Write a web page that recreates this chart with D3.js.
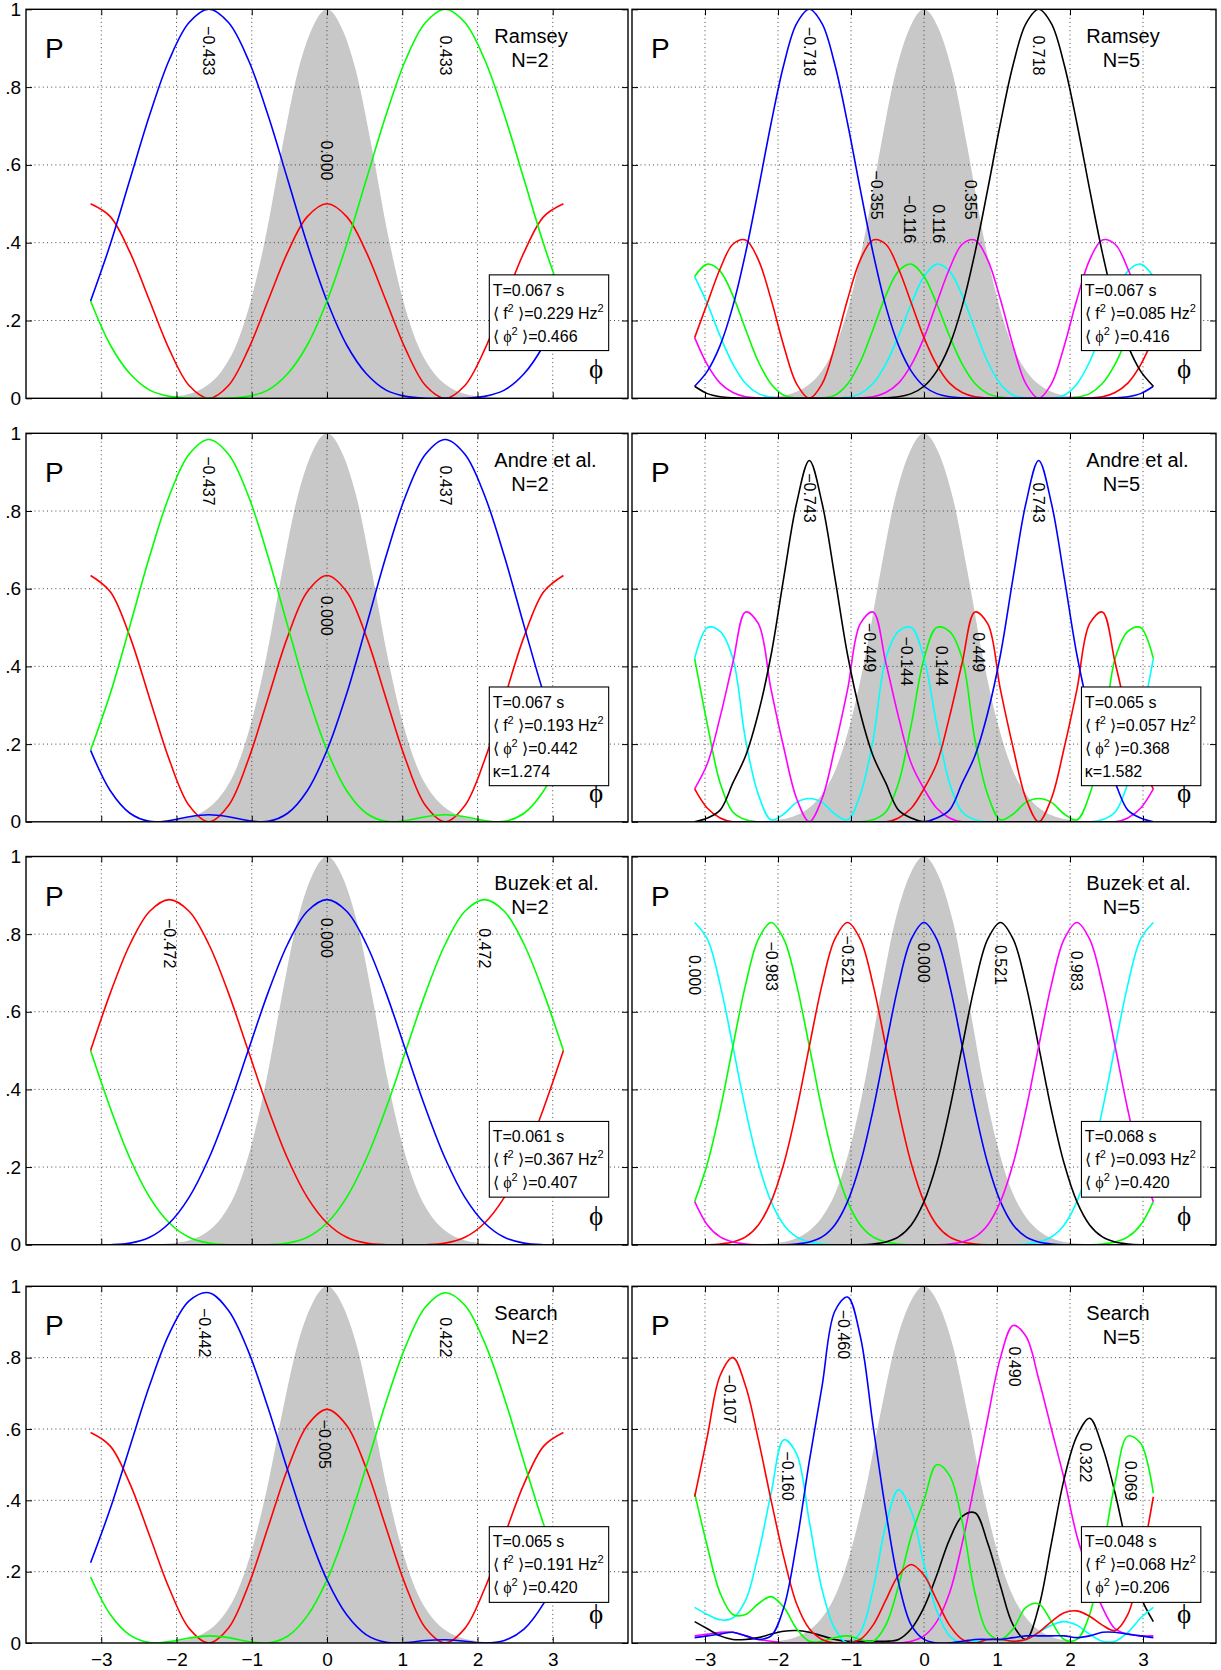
<!DOCTYPE html>
<html>
<head>
<meta charset="utf-8">
<script src="https://cdn.jsdelivr.net/npm/d3@7"></script>
<style>
  body { margin: 0; background: #fff; }
  svg { display: block; }
  text { font-family: "Liberation Sans", Arial, Helvetica, sans-serif; }
</style>
</head>
<body>
<div id="chart"></div>
<script>
// phase grids (rad)
const phiN2 = [-3.1416, -2.8798, -2.618, -2.3562, -2.0944, -1.8326, -1.5708, -1.309, -1.0472, -0.7854, -0.5236, -0.2618, 0, 0.2618, 0.5236, 0.7854, 1.0472, 1.309, 1.5708, 1.8326, 2.0944, 2.3562, 2.618, 2.8798, 3.1416];
const phiN5 = [-3.1416, -2.9671, -2.7925, -2.618, -2.4435, -2.2689, -2.0944, -1.9199, -1.7453, -1.5708, -1.3963, -1.2217, -1.0472, -0.8727, -0.6981, -0.5236, -0.3491, -0.1745, 0, 0.1745, 0.3491, 0.5236, 0.6981, 0.8727, 1.0472, 1.2217, 1.3963, 1.5708, 1.7453, 1.9199, 2.0944, 2.2689, 2.4435, 2.618, 2.7925, 2.9671, 3.1416];

// grey prior
const priorPhi = [-3.14, -2.8, -2.4, -2.2, -2.0, -1.8, -1.6, -1.4, -1.2, -1.0, -0.8, -0.6, -0.4, -0.2, 0, 0.2, 0.4, 0.6, 0.8, 1.0, 1.2, 1.4, 1.6, 1.8, 2.0, 2.2, 2.4, 2.8, 3.14];
const priorP = [0, 0, 0.0005, 0.002, 0.005, 0.013, 0.032, 0.07, 0.14, 0.26, 0.43, 0.64, 0.83, 0.95, 1, 0.95, 0.83, 0.64, 0.43, 0.26, 0.14, 0.07, 0.032, 0.013, 0.005, 0.002, 0.0005, 0, 0];

// Ramsey N=2
const ramsey2Red = [0.5, 0.467, 0.375, 0.25, 0.125, 0.033, 0, 0.033, 0.125, 0.25, 0.375, 0.467, 0.5, 0.467, 0.375, 0.25, 0.125, 0.033, 0, 0.033, 0.125, 0.25, 0.375, 0.467, 0.5];
const ramsey2Blue = [0.25, 0.396, 0.563, 0.729, 0.871, 0.966, 1, 0.966, 0.871, 0.729, 0.563, 0.396, 0.25, 0.137, 0.063, 0.021, 0.005, 0, 0, 0, 0.005, 0.021, 0.063, 0.137, 0.25];
const ramsey2Green = [0.25, 0.137, 0.063, 0.021, 0.005, 0, 0, 0, 0.005, 0.021, 0.063, 0.137, 0.25, 0.396, 0.563, 0.729, 0.871, 0.966, 1, 0.966, 0.871, 0.729, 0.563, 0.396, 0.25];
const ramsey2LabelText = ["\u22120.433", "0.000", "0.433"];
const ramsey2LabelPhi = [-1.571, 0, 1.571];
const ramsey2LabelP = [0.83, 0.56, 0.83];
const ramsey2Stats = ["0.067", "0.229", "0.466"];

// Ramsey N=5
const ramsey5Blue = [0.031, 0.070, 0.136, 0.237, 0.374, 0.537, 0.707, 0.858, 0.963, 1, 0.963, 0.858, 0.707, 0.537, 0.374, 0.237, 0.136, 0.070, 0.031, 0.012, 0.004, 0.001, 0, 0, 0, 0, 0, 0, 0, 0, 0, 0, 0, 0.001, 0.004, 0.012, 0.031];
const ramsey5Black = [0.031, 0.012, 0.004, 0.001, 0, 0, 0, 0, 0, 0, 0, 0, 0, 0, 0, 0.001, 0.004, 0.012, 0.031, 0.070, 0.136, 0.237, 0.374, 0.537, 0.707, 0.858, 0.963, 1, 0.963, 0.858, 0.707, 0.537, 0.374, 0.237, 0.136, 0.070, 0.031];
const ramsey5Red = [0.156, 0.245, 0.333, 0.396, 0.407, 0.356, 0.254, 0.134, 0.037, 0, 0.037, 0.134, 0.254, 0.356, 0.407, 0.396, 0.333, 0.245, 0.156, 0.086, 0.039, 0.015, 0.004, 0.001, 0, 0, 0, 0, 0, 0, 0, 0.001, 0.004, 0.015, 0.039, 0.086, 0.156];
const ramsey5Magenta = [0.156, 0.086, 0.039, 0.015, 0.004, 0.001, 0, 0, 0, 0, 0, 0, 0, 0.001, 0.004, 0.015, 0.039, 0.086, 0.156, 0.245, 0.333, 0.396, 0.407, 0.356, 0.254, 0.134, 0.037, 0, 0.037, 0.134, 0.254, 0.356, 0.407, 0.396, 0.333, 0.245, 0.156];
const ramsey5Green = [0.313, 0.345, 0.327, 0.264, 0.177, 0.094, 0.037, 0.008, 0.001, 0, 0.001, 0.008, 0.037, 0.094, 0.177, 0.264, 0.327, 0.345, 0.313, 0.243, 0.160, 0.088, 0.038, 0.012, 0.003, 0, 0, 0, 0, 0, 0.003, 0.012, 0.038, 0.088, 0.160, 0.243, 0.313];
const ramsey5Cyan = [0.313, 0.243, 0.160, 0.088, 0.038, 0.012, 0.003, 0, 0, 0, 0, 0, 0.003, 0.012, 0.038, 0.088, 0.160, 0.243, 0.313, 0.345, 0.327, 0.264, 0.177, 0.094, 0.037, 0.008, 0.001, 0, 0.001, 0.008, 0.037, 0.094, 0.177, 0.264, 0.327, 0.345, 0.313];
const ramsey5LabelText = ["\u22120.718", "\u22120.355", "\u22120.116", "0.116", "0.355", "0.718"];
const ramsey5LabelPhi = [-1.571, -0.644, -0.201, 0.201, 0.644, 1.571];
const ramsey5LabelP = [0.828, 0.459, 0.399, 0.399, 0.459, 0.83];
const ramsey5Stats = ["0.067", "0.085", "0.416"];

// Andre et al. N=2
const andre2Green = [0.184, 0.330, 0.505, 0.684, 0.840, 0.946, 0.984, 0.946, 0.840, 0.684, 0.505, 0.330, 0.184, 0.080, 0.022, 0.001, 0.003, 0.013, 0.018, 0.013, 0.003, 0.001, 0.022, 0.080, 0.184];
const andre2Blue = [0.184, 0.080, 0.022, 0.001, 0.003, 0.013, 0.018, 0.013, 0.003, 0.001, 0.022, 0.080, 0.184, 0.330, 0.505, 0.684, 0.840, 0.946, 0.984, 0.946, 0.840, 0.684, 0.505, 0.330, 0.184];
const andre2Red = [0.634, 0.592, 0.476, 0.317, 0.159, 0.042, 0, 0.042, 0.159, 0.317, 0.476, 0.592, 0.634, 0.592, 0.476, 0.317, 0.159, 0.042, 0, 0.042, 0.159, 0.317, 0.476, 0.592, 0.634];
const andre2LabelText = ["\u22120.437", "0.000", "0.437"];
const andre2LabelPhi = [-1.571, 0, 1.571];
const andre2LabelP = [0.814, 0.479, 0.814];
const andre2Stats = ["0.067", "0.193", "0.442", "1.274"];

// Andre et al. N=5
const andre5Black = [0, 0.01, 0.03, 0.10, 0.17, 0.28, 0.43, 0.63, 0.82, 0.93, 0.82, 0.63, 0.43, 0.28, 0.17, 0.10, 0.03, 0.01, 0, 0, 0, 0, 0, 0, 0, 0, 0, 0, 0, 0, 0, 0, 0, 0, 0, 0, 0];
const andre5Blue = [0, 0, 0, 0, 0, 0, 0, 0, 0, 0, 0, 0, 0, 0, 0, 0, 0, 0, 0, 0.01, 0.03, 0.10, 0.17, 0.28, 0.43, 0.63, 0.82, 0.93, 0.82, 0.63, 0.43, 0.28, 0.17, 0.10, 0.03, 0.01, 0];
const andre5Magenta = [0.085, 0.15, 0.27, 0.41, 0.54, 0.51, 0.34, 0.19, 0.06, 0, 0.06, 0.19, 0.34, 0.51, 0.54, 0.41, 0.27, 0.15, 0.085, 0.035, 0.01, 0, 0, 0, 0, 0, 0, 0, 0, 0, 0, 0, 0, 0, 0.01, 0.035, 0.085];
const andre5Red = [0.085, 0.035, 0.01, 0, 0, 0, 0, 0, 0, 0, 0, 0, 0, 0, 0, 0, 0.01, 0.035, 0.085, 0.15, 0.27, 0.41, 0.54, 0.51, 0.34, 0.19, 0.06, 0, 0.06, 0.19, 0.34, 0.51, 0.54, 0.41, 0.27, 0.15, 0.085];
const andre5Cyan = [0.42, 0.50, 0.49, 0.42, 0.21, 0.07, 0.005, 0.02, 0.05, 0.06, 0.05, 0.02, 0.005, 0.07, 0.21, 0.42, 0.49, 0.50, 0.42, 0.25, 0.10, 0.025, 0.005, 0, 0, 0, 0, 0, 0, 0, 0, 0, 0.005, 0.025, 0.10, 0.25, 0.42];
const andre5Green = [0.42, 0.25, 0.10, 0.025, 0.005, 0, 0, 0, 0, 0, 0, 0, 0, 0, 0.005, 0.025, 0.10, 0.25, 0.42, 0.50, 0.49, 0.42, 0.21, 0.07, 0.005, 0.02, 0.05, 0.06, 0.05, 0.02, 0.005, 0.07, 0.21, 0.42, 0.49, 0.50, 0.42];
const andre5LabelText = ["\u22120.743", "\u22120.449", "\u22120.144", "0.144", "0.449", "0.743"];
const andre5LabelPhi = [-1.571, -0.75, -0.243, 0.243, 0.75, 1.571];
const andre5LabelP = [0.77, 0.385, 0.35, 0.35, 0.385, 0.77];
const andre5Stats = ["0.065", "0.057", "0.368", "1.582"];

// Buzek et al. N=2
const buzek2Red = [0.5, 0.648, 0.774, 0.859, 0.889, 0.859, 0.774, 0.648, 0.5, 0.352, 0.222, 0.122, 0.056, 0.019, 0.004, 0, 0, 0, 0.004, 0.019, 0.056, 0.122, 0.222, 0.352, 0.5];
const buzek2Blue = [0, 0, 0.004, 0.019, 0.056, 0.122, 0.222, 0.352, 0.5, 0.648, 0.774, 0.859, 0.889, 0.859, 0.774, 0.648, 0.5, 0.352, 0.222, 0.122, 0.056, 0.019, 0.004, 0, 0];
const buzek2Green = [0.5, 0.352, 0.222, 0.122, 0.056, 0.019, 0.004, 0, 0, 0, 0.004, 0.019, 0.056, 0.122, 0.222, 0.352, 0.5, 0.648, 0.774, 0.859, 0.889, 0.859, 0.774, 0.648, 0.5];
const buzek2LabelText = ["\u22120.472", "0.000", "0.472"];
const buzek2LabelPhi = [-2.094, 0, 2.094];
const buzek2LabelP = [0.712, 0.739, 0.712];
const buzek2Stats = ["0.061", "0.367", "0.407"];

// Buzek et al. N=5
const buzek5Cyan = [0.83, 0.787, 0.670, 0.511, 0.347, 0.209, 0.111, 0.051, 0.020, 0.007, 0.002, 0, 0, 0, 0, 0, 0, 0, 0, 0, 0, 0, 0, 0, 0, 0, 0.002, 0.007, 0.020, 0.051, 0.111, 0.209, 0.347, 0.511, 0.670, 0.787, 0.83];
const buzek5Green = [0.111, 0.209, 0.347, 0.511, 0.670, 0.787, 0.83, 0.787, 0.670, 0.511, 0.347, 0.209, 0.111, 0.051, 0.020, 0.007, 0.002, 0, 0, 0, 0, 0, 0, 0, 0, 0, 0, 0, 0, 0, 0, 0, 0.002, 0.007, 0.020, 0.051, 0.111];
const buzek5Red = [0, 0, 0.002, 0.007, 0.020, 0.051, 0.111, 0.209, 0.347, 0.511, 0.670, 0.787, 0.83, 0.787, 0.670, 0.511, 0.347, 0.209, 0.111, 0.051, 0.020, 0.007, 0.002, 0, 0, 0, 0, 0, 0, 0, 0, 0, 0, 0, 0, 0, 0];
const buzek5Blue = [0, 0, 0, 0, 0, 0, 0, 0, 0.002, 0.007, 0.020, 0.051, 0.111, 0.209, 0.347, 0.511, 0.670, 0.787, 0.83, 0.787, 0.670, 0.511, 0.347, 0.209, 0.111, 0.051, 0.020, 0.007, 0.002, 0, 0, 0, 0, 0, 0, 0, 0];
const buzek5Black = [0, 0, 0, 0, 0, 0, 0, 0, 0, 0, 0, 0, 0, 0, 0.002, 0.007, 0.020, 0.051, 0.111, 0.209, 0.347, 0.511, 0.670, 0.787, 0.83, 0.787, 0.670, 0.511, 0.347, 0.209, 0.111, 0.051, 0.020, 0.007, 0.002, 0, 0];
const buzek5Magenta = [0.111, 0.051, 0.020, 0.007, 0.002, 0, 0, 0, 0, 0, 0, 0, 0, 0, 0, 0, 0, 0, 0, 0, 0.002, 0.007, 0.020, 0.051, 0.111, 0.209, 0.347, 0.511, 0.670, 0.787, 0.83, 0.787, 0.670, 0.511, 0.347, 0.209, 0.111];
const buzek5LabelText = ["0.000", "\u22120.983", "\u22120.521", "0.000", "0.521", "0.983"];
const buzek5LabelPhi = [-3.14, -2.094, -1.047, 0, 1.047, 2.094];
const buzek5LabelP = [0.643, 0.654, 0.669, 0.675, 0.669, 0.654];
const buzek5Stats = ["0.068", "0.093", "0.420"];

// Search N=2
const search2Blue = [0.225, 0.377, 0.551, 0.723, 0.868, 0.959, 0.982, 0.932, 0.819, 0.661, 0.485, 0.317, 0.177, 0.079, 0.023, 0.002, 0.001, 0.007, 0.009, 0.005, 0, 0.007, 0.039, 0.111, 0.225];
const search2Green = [0.185, 0.080, 0.022, 0.001, 0.004, 0.014, 0.020, 0.015, 0.004, 0, 0.019, 0.076, 0.177, 0.322, 0.496, 0.676, 0.833, 0.942, 0.982, 0.947, 0.842, 0.687, 0.507, 0.332, 0.185];
const search2Red = [0.59, 0.552, 0.446, 0.300, 0.152, 0.041, 0, 0.042, 0.160, 0.323, 0.488, 0.610, 0.655, 0.610, 0.488, 0.323, 0.160, 0.042, 0, 0.041, 0.152, 0.300, 0.446, 0.552, 0.59];
const search2LabelText = ["\u22120.442", "\u22120.005", "0.422"];
const search2LabelPhi = [-1.62, -0.03, 1.58];
const search2LabelP = [0.801, 0.488, 0.801];
const search2Stats = ["0.065", "0.191", "0.420"];

// Search N=5
const search5Red = [0.41, 0.58, 0.75, 0.80, 0.72, 0.57, 0.40, 0.24, 0.11, 0.04, 0.01, 0, 0, 0.01, 0.05, 0.12, 0.19, 0.22, 0.19, 0.12, 0.05, 0.01, 0, 0.01, 0.01, 0.005, 0.01, 0.03, 0.06, 0.085, 0.09, 0.075, 0.05, 0.035, 0.08, 0.22, 0.41];
const search5Blue = [0.015, 0.02, 0.025, 0.03, 0.02, 0.01, 0.02, 0.10, 0.28, 0.51, 0.72, 0.93, 0.97, 0.86, 0.61, 0.37, 0.17, 0.05, 0.01, 0, 0, 0.005, 0.01, 0.01, 0.01, 0.015, 0.02, 0.02, 0.02, 0.02, 0.015, 0.02, 0.03, 0.03, 0.025, 0.02, 0.015];
const search5Cyan = [0.10, 0.08, 0.065, 0.07, 0.12, 0.25, 0.42, 0.57, 0.53, 0.34, 0.15, 0.04, 0, 0.03, 0.15, 0.33, 0.43, 0.37, 0.22, 0.09, 0.02, 0, 0.005, 0.01, 0.01, 0.005, 0.01, 0.03, 0.05, 0.06, 0.05, 0.025, 0.005, 0.005, 0.03, 0.07, 0.10];
const search5Green = [0.42, 0.27, 0.14, 0.08, 0.08, 0.11, 0.13, 0.10, 0.04, 0.005, 0.005, 0.015, 0.02, 0.01, 0.005, 0.05, 0.16, 0.30, 0.40, 0.50, 0.47, 0.34, 0.14, 0.03, 0.01, 0.04, 0.10, 0.11, 0.06, 0.01, 0.01, 0.08, 0.25, 0.45, 0.58, 0.56, 0.42];
const search5Magenta = [0.02, 0.025, 0.03, 0.03, 0.02, 0.01, 0.005, 0, 0, 0, 0, 0, 0, 0, 0, 0, 0, 0.005, 0.02, 0.06, 0.14, 0.28, 0.45, 0.63, 0.80, 0.89, 0.86, 0.74, 0.60, 0.46, 0.30, 0.19, 0.10, 0.04, 0.025, 0.02, 0.02];
const search5Black = [0.06, 0.04, 0.02, 0.01, 0.01, 0.015, 0.025, 0.033, 0.035, 0.03, 0.02, 0.01, 0.005, 0.005, 0.005, 0.005, 0.01, 0.04, 0.10, 0.19, 0.29, 0.355, 0.365, 0.28, 0.16, 0.05, 0.01, 0.10, 0.28, 0.46, 0.58, 0.63, 0.55, 0.42, 0.26, 0.13, 0.06];
const search5LabelText = ["\u22120.107", "\u22120.160", "\u22120.460", "0.490", "0.322", "0.069"];
const search5LabelPhi = [-2.66, -1.87, -1.1, 1.24, 2.21, 2.83];
const search5LabelP = [0.614, 0.399, 0.796, 0.719, 0.45, 0.399];
const search5Stats = ["0.048", "0.068", "0.206"];

const xTicks = [-3, -2, -1, 0, 1, 2, 3];
const yTicks = [0, 0.2, 0.4, 0.6, 0.8, 1];
const yTickText = ["0", ".2", ".4", ".6", ".8", "1"];

const C = { r: "#ff0000", g: "#00ff00", b: "#0000ff", c: "#00ffff", m: "#ff00ff", k: "#000000" };

const panels = [
  { row: 0, col: 0, phi: phiN2, title: ["Ramsey", "N=2"], stats: ramsey2Stats,
    series: [[ramsey2Red, "r"], [ramsey2Blue, "b"], [ramsey2Green, "g"]],
    lab: [ramsey2LabelText, ramsey2LabelPhi, ramsey2LabelP] },
  { row: 0, col: 1, phi: phiN5, title: ["Ramsey", "N=5"], stats: ramsey5Stats,
    series: [[ramsey5Cyan, "c"], [ramsey5Green, "g"], [ramsey5Magenta, "m"], [ramsey5Red, "r"], [ramsey5Blue, "b"], [ramsey5Black, "k"]],
    lab: [ramsey5LabelText, ramsey5LabelPhi, ramsey5LabelP] },
  { row: 1, col: 0, phi: phiN2, title: ["Andre et al.", "N=2"], stats: andre2Stats,
    series: [[andre2Red, "r"], [andre2Green, "g"], [andre2Blue, "b"]],
    lab: [andre2LabelText, andre2LabelPhi, andre2LabelP] },
  { row: 1, col: 1, phi: phiN5, title: ["Andre et al.", "N=5"], stats: andre5Stats,
    series: [[andre5Cyan, "c"], [andre5Green, "g"], [andre5Magenta, "m"], [andre5Red, "r"], [andre5Black, "k"], [andre5Blue, "b"]],
    lab: [andre5LabelText, andre5LabelPhi, andre5LabelP] },
  { row: 2, col: 0, phi: phiN2, title: ["Buzek et al.", "N=2"], stats: buzek2Stats,
    series: [[buzek2Green, "g"], [buzek2Red, "r"], [buzek2Blue, "b"]],
    lab: [buzek2LabelText, buzek2LabelPhi, buzek2LabelP] },
  { row: 2, col: 1, phi: phiN5, title: ["Buzek et al.", "N=5"], stats: buzek5Stats,
    series: [[buzek5Cyan, "c"], [buzek5Green, "g"], [buzek5Red, "r"], [buzek5Blue, "b"], [buzek5Black, "k"], [buzek5Magenta, "m"]],
    lab: [buzek5LabelText, buzek5LabelPhi, buzek5LabelP] },
  { row: 3, col: 0, phi: phiN2, title: ["Search", "N=2"], stats: search2Stats,
    series: [[search2Red, "r"], [search2Green, "g"], [search2Blue, "b"]],
    lab: [search2LabelText, search2LabelPhi, search2LabelP] },
  { row: 3, col: 1, phi: phiN5, title: ["Search", "N=5"], stats: search5Stats,
    series: [[search5Magenta, "m"], [search5Black, "k"], [search5Cyan, "c"], [search5Green, "g"], [search5Red, "r"], [search5Blue, "b"]],
    lab: [search5LabelText, search5LabelPhi, search5LabelP] }
];

const W = 1221, H = 1670;
const cols = [[26, 628], [632, 1216]];
const rows = [[9.3, 398.3], [433.3, 821.8], [856.5, 1244.7], [1286.3, 1643]];
const PHI = "\u03d5";
const serif = "'Liberation Serif', 'FreeSerif', 'DejaVu Serif', serif";

const svg = d3.select("#chart").append("svg")
  .attr("width", W).attr("height", H)
  .attr("viewBox", `0 0 ${W} ${H}`);
svg.append("rect").attr("width", W).attr("height", H).attr("fill", "#fff");
const defs = svg.append("defs");

panels.forEach((p, i) => {
  const [x0, x1] = cols[p.col];
  const [y0, y1] = rows[p.row];
  const x = d3.scaleLinear().domain([-4, 4]).range([x0, x1]);
  const y = d3.scaleLinear().domain([0, 1]).range([y1, y0]);
  const g = svg.append("g");

  defs.append("clipPath").attr("id", "clip" + i)
    .append("rect").attr("x", x0).attr("y", y0).attr("width", x1 - x0).attr("height", y1 - y0);
  const plot = g.append("g").attr("clip-path", `url(#clip${i})`);

  // prior
  const area = d3.area().x(d => x(d[0])).y0(y(0)).y1(d => y(d[1])).curve(d3.curveMonotoneX);
  plot.append("path").datum(priorPhi.map((v, j) => [v, priorP[j]]))
    .attr("d", area).attr("fill", "#c8c8c8");

  // dotted grid
  plot.selectAll(".gx").data(xTicks).join("line")
    .attr("x1", d => x(d)).attr("x2", d => x(d)).attr("y1", y0).attr("y2", y1)
    .attr("stroke", "#333").attr("stroke-width", 0.9).attr("stroke-dasharray", "1,3.2");
  plot.selectAll(".gy").data([0.2, 0.4, 0.6, 0.8]).join("line")
    .attr("x1", x0).attr("x2", x1).attr("y1", d => y(d)).attr("y2", d => y(d))
    .attr("stroke", "#333").attr("stroke-width", 0.9).attr("stroke-dasharray", "1,3.2");

  // outcome curves
  const line = d3.line().x(d => x(d[0])).y(d => y(d[1])).curve(d3.curveCatmullRom.alpha(0.5));
  p.series.forEach(([vals, c]) => {
    plot.append("path").datum(vals.map((v, j) => [p.phi[j], v]))
      .attr("d", line).attr("fill", "none").attr("stroke", C[c]).attr("stroke-width", 1.6);
  });

  // axes ticks (inward)
  const bottom = d3.axisBottom(x).tickValues(xTicks).tickSize(-6).tickPadding(10)
    .tickFormat(p.row === 3 ? d3.format("d") : () => "");
  const top = d3.axisTop(x).tickValues(xTicks).tickSize(-6).tickFormat(() => "");
  const left = d3.axisLeft(y).tickValues(yTicks).tickSize(-6).tickPadding(5)
    .tickFormat((d, j) => p.col === 0 ? yTickText[j] : "");
  const right = d3.axisRight(y).tickValues(yTicks).tickSize(-6).tickFormat(() => "");
  [[bottom, `translate(0,${y1})`], [top, `translate(0,${y0})`],
   [left, `translate(${x0},0)`], [right, `translate(${x1},0)`]].forEach(([ax, tr]) => {
    const a = g.append("g").attr("transform", tr).call(ax);
    a.select(".domain").remove();
    a.selectAll("line").attr("stroke", "#000").attr("stroke-width", 1);
    a.selectAll("text").attr("fill", "#000").style("font-size", "19px")
      .style("font-family", "'Liberation Sans', Arial, sans-serif");
  });

  // frame
  g.append("rect").attr("x", x0).attr("y", y0).attr("width", x1 - x0).attr("height", y1 - y0)
    .attr("fill", "none").attr("stroke", "#000").attr("stroke-width", 1.4);

  // peak labels
  const [lt, lx, ly] = p.lab;
  lt.forEach((t, j) => {
    g.append("text")
      .attr("transform", `translate(${x(lx[j])},${y(ly[j])}) rotate(90)`)
      .attr("text-anchor", "end").attr("dy", "0.35em")
      .style("font-size", "16px").attr("fill", "#000").text(t);
  });

  // P
  g.append("text").attr("x", x0 + 19).attr("y", y0 + 49).style("font-size", "28px").text("P");

  // title
  g.append("text").attr("x", x(2.224)).attr("y", y0 + 33.4).style("font-size", "20px").text(p.title[0]);
  g.append("text").attr("x", x(2.45)).attr("y", y0 + 57.4).style("font-size", "20px").text(p.title[1]);

  // phi symbol
  g.append("text").attr("x", x1 - 32).attr("y", y1 - 20).attr("text-anchor", "middle")
    .style("font-size", "27px").style("font-family", serif)
    .text(PHI);

  // stats box
  const n = p.stats.length;
  const boxH = 20.7 + 23 * (n - 1) + 9;
  const bx = x(2.157);
  const by = y(0.22) - boxH / 2;
  const box = g.append("g");
  const rect = box.append("rect").attr("x", bx).attr("y", by).attr("height", boxH)
    .attr("fill", "#fff").attr("stroke", "#000").attr("stroke-width", 1.1);
  const tg = box.append("g").style("font-size", "16px");
  const tx = bx + 3.4;
  tg.append("text").attr("x", tx).attr("y", by + 20.7).text(`T=${p.stats[0]} s`);
  const l2 = tg.append("text").attr("x", tx).attr("y", by + 43.7);
  l2.append("tspan").text("\u27e8 f");
  l2.append("tspan").attr("dy", -7).style("font-size", "11px").text("2");
  l2.append("tspan").attr("dy", 7).text(` \u27e9=${p.stats[1]} Hz`);
  l2.append("tspan").attr("dy", -7).style("font-size", "11px").text("2");
  const l3 = tg.append("text").attr("x", tx).attr("y", by + 66.7);
  l3.append("tspan").text("\u27e8 ");
  l3.append("tspan").style("font-family", serif).style("font-size", "16px").text(PHI);
  l3.append("tspan").attr("dy", -7).style("font-size", "11px").text("2");
  l3.append("tspan").attr("dy", 7).text(` \u27e9=${p.stats[2]}`);
  if (n > 3) {
    tg.append("text").attr("x", tx).attr("y", by + 89.7).text(`\u03ba=${p.stats[3]}`);
  }
  const bb = tg.node().getBBox();
  rect.attr("width", bb.x + bb.width - bx + 5);
});
</script>
</body>
</html>
